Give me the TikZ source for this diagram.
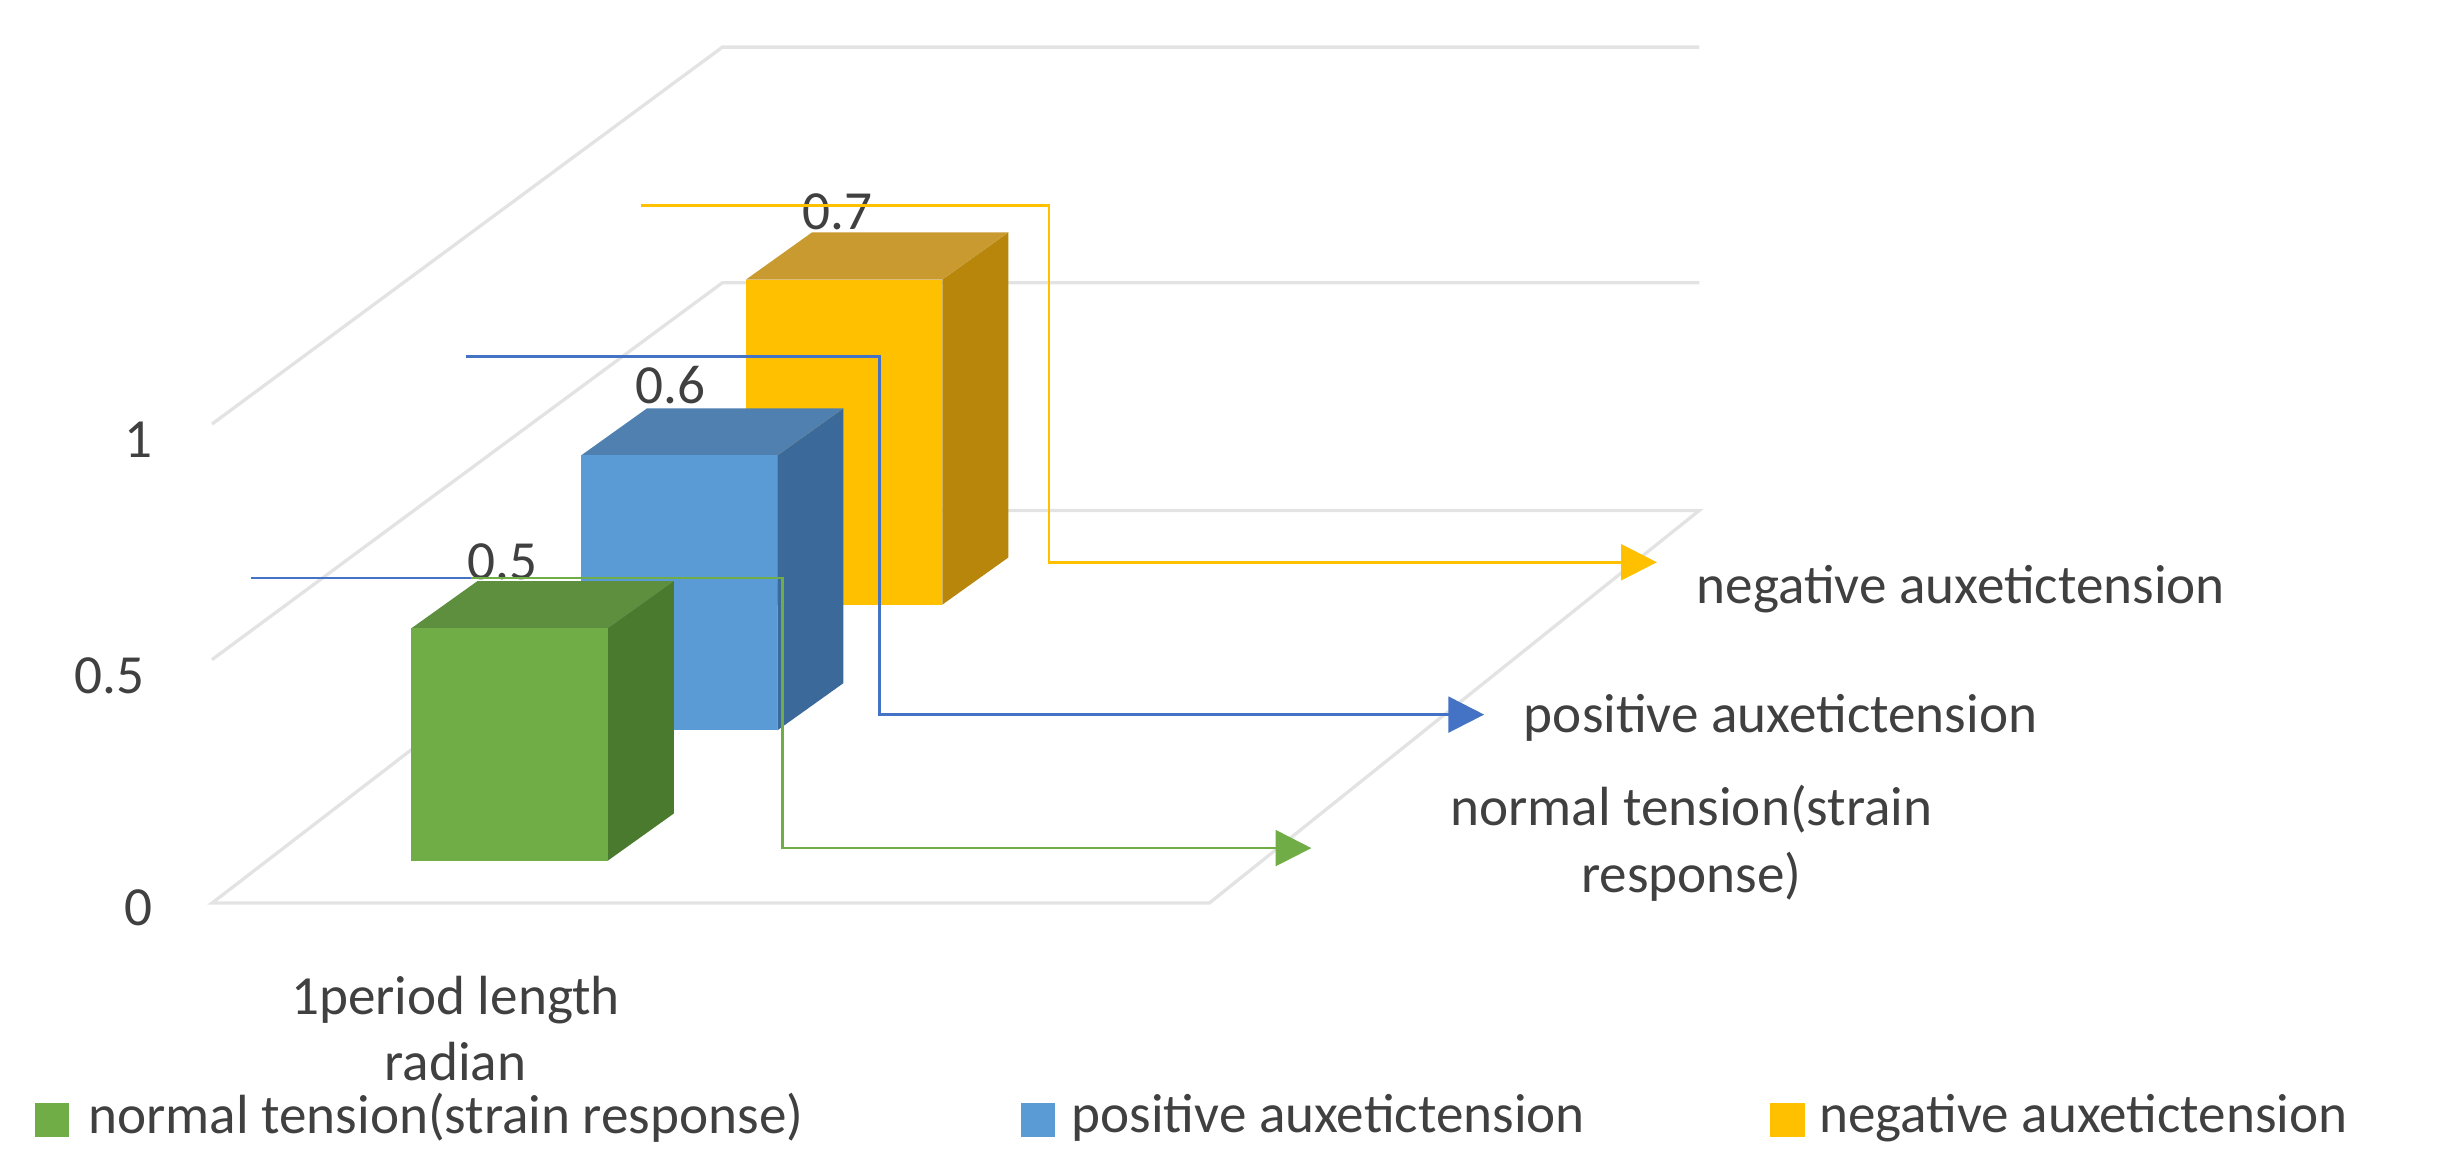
\documentclass[tikz,border=0pt]{standalone}
\usepackage{fontspec}
\setmainfont{Carlito}
\usetikzlibrary{arrows.meta}
\definecolor{gF}{HTML}{70AD47}\definecolor{gS}{HTML}{4A7A2E}\definecolor{gT}{HTML}{5E8F3E}
\definecolor{bF}{HTML}{5B9BD5}\definecolor{bS}{HTML}{3B6A9A}\definecolor{bT}{HTML}{4F80B0}
\definecolor{yF}{HTML}{FFC000}\definecolor{yS}{HTML}{B8860B}\definecolor{yT}{HTML}{C99A30}
\definecolor{txt}{HTML}{404040}\definecolor{grid}{HTML}{E3E3E3}
\definecolor{lb}{HTML}{4472C4}
\begin{document}
\begin{tikzpicture}[x=0.02cm,y=-0.02cm,
  gl/.style={grid,line width=1.2pt},
  lbl/.style={font=\fontsize{20}{24}\selectfont,text=txt,inner sep=0pt},
  lead/.style={line width=1pt},
  tip/.style={-{Triangle[length=13pt,width=13pt]}}]
\useasboundingbox (0,0) rectangle (1560,748);
% grid
\draw[gl] (135,270)--(460,30)--(1082,30);
\draw[gl] (135,420)--(460,180)--(1082,180);
\draw[gl] (135,575)--(460,325)--(1082,325)--(770,575)--cycle;
% axis labels
\node[lbl] (t1) at (88,280) {1};
\node[lbl] (t05) at (70,430) {0.5};
\node[lbl] (t0) at (88,578) {0};
% bars: front x1,x2, top, bottom; depth (42,-28)
\newcommand\mybar[7]{%
 \fill[#7] (#2,#3)--++(42,-30)--(#2+42,#4-30)--(#2,#4)--cycle;
 \fill[#6] (#1,#3)--++(42,-30)--(#2+42,#3-30)--(#2,#3)--cycle;
 \fill[#5] (#1,#3) rectangle (#2,#4);}
\mybar{475}{600}{178}{385}{yF}{yT}{yS}
\mybar{370}{495}{290}{465}{bF}{bT}{bS}
\mybar{262}{387}{400}{548}{gF}{gT}{gS}
\node[lbl] (v7) at (533,135) {0.7};
\node[lbl] (v6) at (427,245) {0.6};
\node[lbl] (v5) at (320,358) {0.5};
% series labels
\node[lbl,anchor=west] (ny) at (1080,375) {negative auxetictension};
\node[lbl,anchor=west] (np) at (970,457) {positive auxetictension};
\node[lbl,align=center] (nn) at (1077,537) {normal tension(strain\\response)};
\coordinate (ay) at (1055,358);
\coordinate (ap) at (945,455);
\coordinate (an) at (835,540);
\draw[lead,yF,tip] (408,131)--(668,131)--(668,358)--(ay);
\draw[lead,lb,tip] (297,227)--(560,227)--(560,455)--(ap);
\draw[lead,lb] (160,368)--(300,368);
\draw[lead,gF,tip] (300,368)--(498,368)--(498,540)--(an);
% category
\node[lbl,align=center] (cat) at (290,655) {1period length\\radian};
% legend
\fill[gF] (22,702) rectangle (44,724);
\node[lbl,anchor=west] (lg) at (56,712) {normal tension(strain response)};
\fill[bF] (650,702) rectangle (672,724);
\node[lbl,anchor=west] (lb) at (682,712) {positive auxetictension};
\fill[yF] (1127,702) rectangle (1149,724);
\node[lbl,anchor=west] (ly) at (1158,712) {negative auxetictension};
\end{tikzpicture}
\end{document}
